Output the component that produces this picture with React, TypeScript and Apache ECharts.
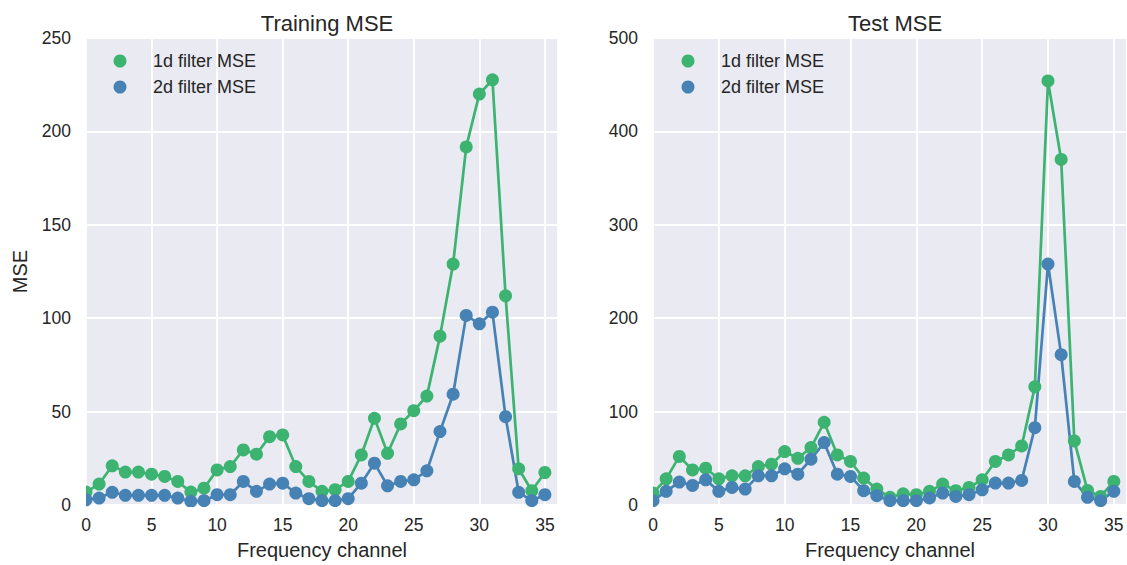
import React, { useEffect, useRef } from "react";
import * as echarts from "echarts";

const channels = [0, 1, 2, 3, 4, 5, 6, 7, 8, 9, 10, 11, 12, 13, 14, 15, 16, 17, 18, 19, 20, 21, 22, 23, 24, 25, 26, 27, 28, 29, 30, 31, 32, 33, 34, 35];
const train1d = [6.9, 11.2, 21, 17.6, 17.6, 16.5, 15.3, 12.6, 6.9, 9, 18.8, 20.6, 29.5, 27.2, 36.6, 37.5, 20.6, 12.6, 7.3, 8.2, 12.6, 26.8, 46.4, 27.7, 43.4, 50.5, 58.3, 90.4, 129, 191.7, 220, 227.6, 112, 19.4, 7.6, 17.4];
const train2d = [2.8, 3.7, 6.8, 5.2, 5.2, 5.2, 5.2, 3.7, 2, 2.3, 5.5, 5.5, 12.6, 7.3, 11.2, 11.7, 6.4, 3.4, 2.3, 2.3, 3.4, 11.7, 22.4, 10.3, 12.6, 13.5, 18.3, 39.3, 59.3, 101.5, 97, 103.2, 47.3, 6.8, 2.3, 5.5];
const test1d = [12.8, 28, 52, 37.6, 39.4, 28, 31.3, 31.3, 41.2, 43.7, 57.2, 50, 61.5, 88.5, 53.6, 46.6, 28.8, 17, 8.2, 12, 11, 14.6, 22.4, 15.3, 18.8, 27, 46.6, 53.6, 63.2, 126.5, 454, 370, 68.6, 15.6, 9.2, 25.2];
const test2d = [4.6, 14.6, 24.5, 21, 27, 14.6, 18.8, 17, 31.3, 31.3, 38.7, 33, 49, 66.8, 33, 30.6, 15.3, 10, 4.6, 4.6, 4.6, 7.5, 12.8, 9.2, 11, 16.3, 23.5, 23.5, 26.3, 82.8, 258, 161, 25.2, 8.2, 4.6, 14.6];

const titles = ["Training MSE", "Test MSE"];
const seriesNames = ["1d filter MSE", "2d filter MSE"];
const xName = "Frequency channel";
const yName = "MSE";

const GREEN = "#3cb371";
const BLUE = "#4682b4";
const TEXT = "#262626";
const FONT = "'Liberation Sans', Arial, Helvetica, sans-serif";

const G = [
  { left: 86, top: 38, width: 472, height: 469 },
  { left: 653, top: 38, width: 474, height: 469 },
];

export default function App() {
  const ref = useRef<HTMLDivElement>(null);
  useEffect(() => {
    document.body.style.margin = "0";
    const chart = echarts.init(ref.current!, null, { renderer: "svg" });
    const pair = (vals: number[]) => channels.map((c, i) => [c, vals[i]]);
    const xAxisBase = (gi: number) => ({
      type: "value",
      gridIndex: gi,
      min: 0,
      max: 36,
      interval: 5,
      name: xName,
      nameLocation: "middle",
      nameGap: 35,
      nameTextStyle: { color: TEXT, fontSize: 20, fontFamily: FONT },
      axisLine: { show: false },
      axisTick: { show: false },
      axisLabel: { color: TEXT, fontSize: 17.5, fontFamily: FONT, margin: 11, showMaxLabel: false },
      splitLine: { show: true, lineStyle: { color: "#ffffff", width: 1.8 } },
    });
    const yAxisBase = (gi: number, max: number, interval: number, named: boolean) => ({
      type: "value",
      gridIndex: gi,
      min: 0,
      max,
      interval,
      name: named ? yName : "",
      nameLocation: "middle",
      nameGap: 56,
      nameTextStyle: { color: TEXT, fontSize: 20, fontFamily: FONT },
      axisLine: { show: false },
      axisTick: { show: false },
      axisLabel: { color: TEXT, fontSize: 17.5, fontFamily: FONT, margin: 15 },
      splitLine: { show: true, lineStyle: { color: "#ffffff", width: 1.8 } },
    });
    const mkSeries = (name: string, vals: number[], color: string, gi: number) => ({
      type: "line",
      name,
      xAxisIndex: gi,
      yAxisIndex: gi,
      data: pair(vals),
      symbol: "circle",
      symbolSize: 13,
      showAllSymbol: true,
      lineStyle: { color, width: 2.7 },
      itemStyle: { color },
      emphasis: { disabled: true },
      clip: false,
    });
    const legendBase = (gi: number, left: number) => ({
      orient: "vertical",
      left,
      top: 47,
      icon: "circle",
      itemWidth: 56,
      itemHeight: 13,
      itemGap: 8,
      data: seriesNames.map((n) => ({ name: n + (gi === 1 ? " " : "") })),
      textStyle: { color: TEXT, fontSize: 18, fontFamily: FONT, lineHeight: 18 },
      selectedMode: false,
    });
    const masks: any[] = [];
    G.forEach((g) => {
      masks.push({ type: "rect", z: 100, shape: { x: g.left - 8, y: g.top - 8, width: 8, height: g.height + 16 }, style: { fill: "#ffffff" } });
      masks.push({ type: "rect", z: 100, shape: { x: g.left - 8, y: g.top + g.height, width: g.width + 16, height: 8 }, style: { fill: "#ffffff" } });
    });
    chart.setOption({
      animation: false,
      textStyle: { fontFamily: FONT },
      title: titles.map((t, i) => ({
        text: t,
        left: G[i].left + G[i].width / 2,
        top: 7,
        textAlign: "center",
        textStyle: { color: TEXT, fontSize: 22, fontWeight: "normal", fontFamily: FONT },
      })),
      grid: G.map((g) => ({ ...g, show: true, backgroundColor: "#eaeaf2", borderWidth: 0, containLabel: false })),
      xAxis: [xAxisBase(0), xAxisBase(1)],
      yAxis: [yAxisBase(0, 250, 50, true), yAxisBase(1, 500, 100, false)],
      legend: [legendBase(0, 108.5), legendBase(1, 676.5)],
      series: [
        mkSeries(seriesNames[0], train1d, GREEN, 0),
        mkSeries(seriesNames[1], train2d, BLUE, 0),
        mkSeries(seriesNames[0] + " ", test1d, GREEN, 1),
        mkSeries(seriesNames[1] + " ", test2d, BLUE, 1),
      ],
      graphic: masks,
    });
    return () => chart.dispose();
  }, []);
  return <div ref={ref} style={{ width: 1127, height: 565 }} />;
}
